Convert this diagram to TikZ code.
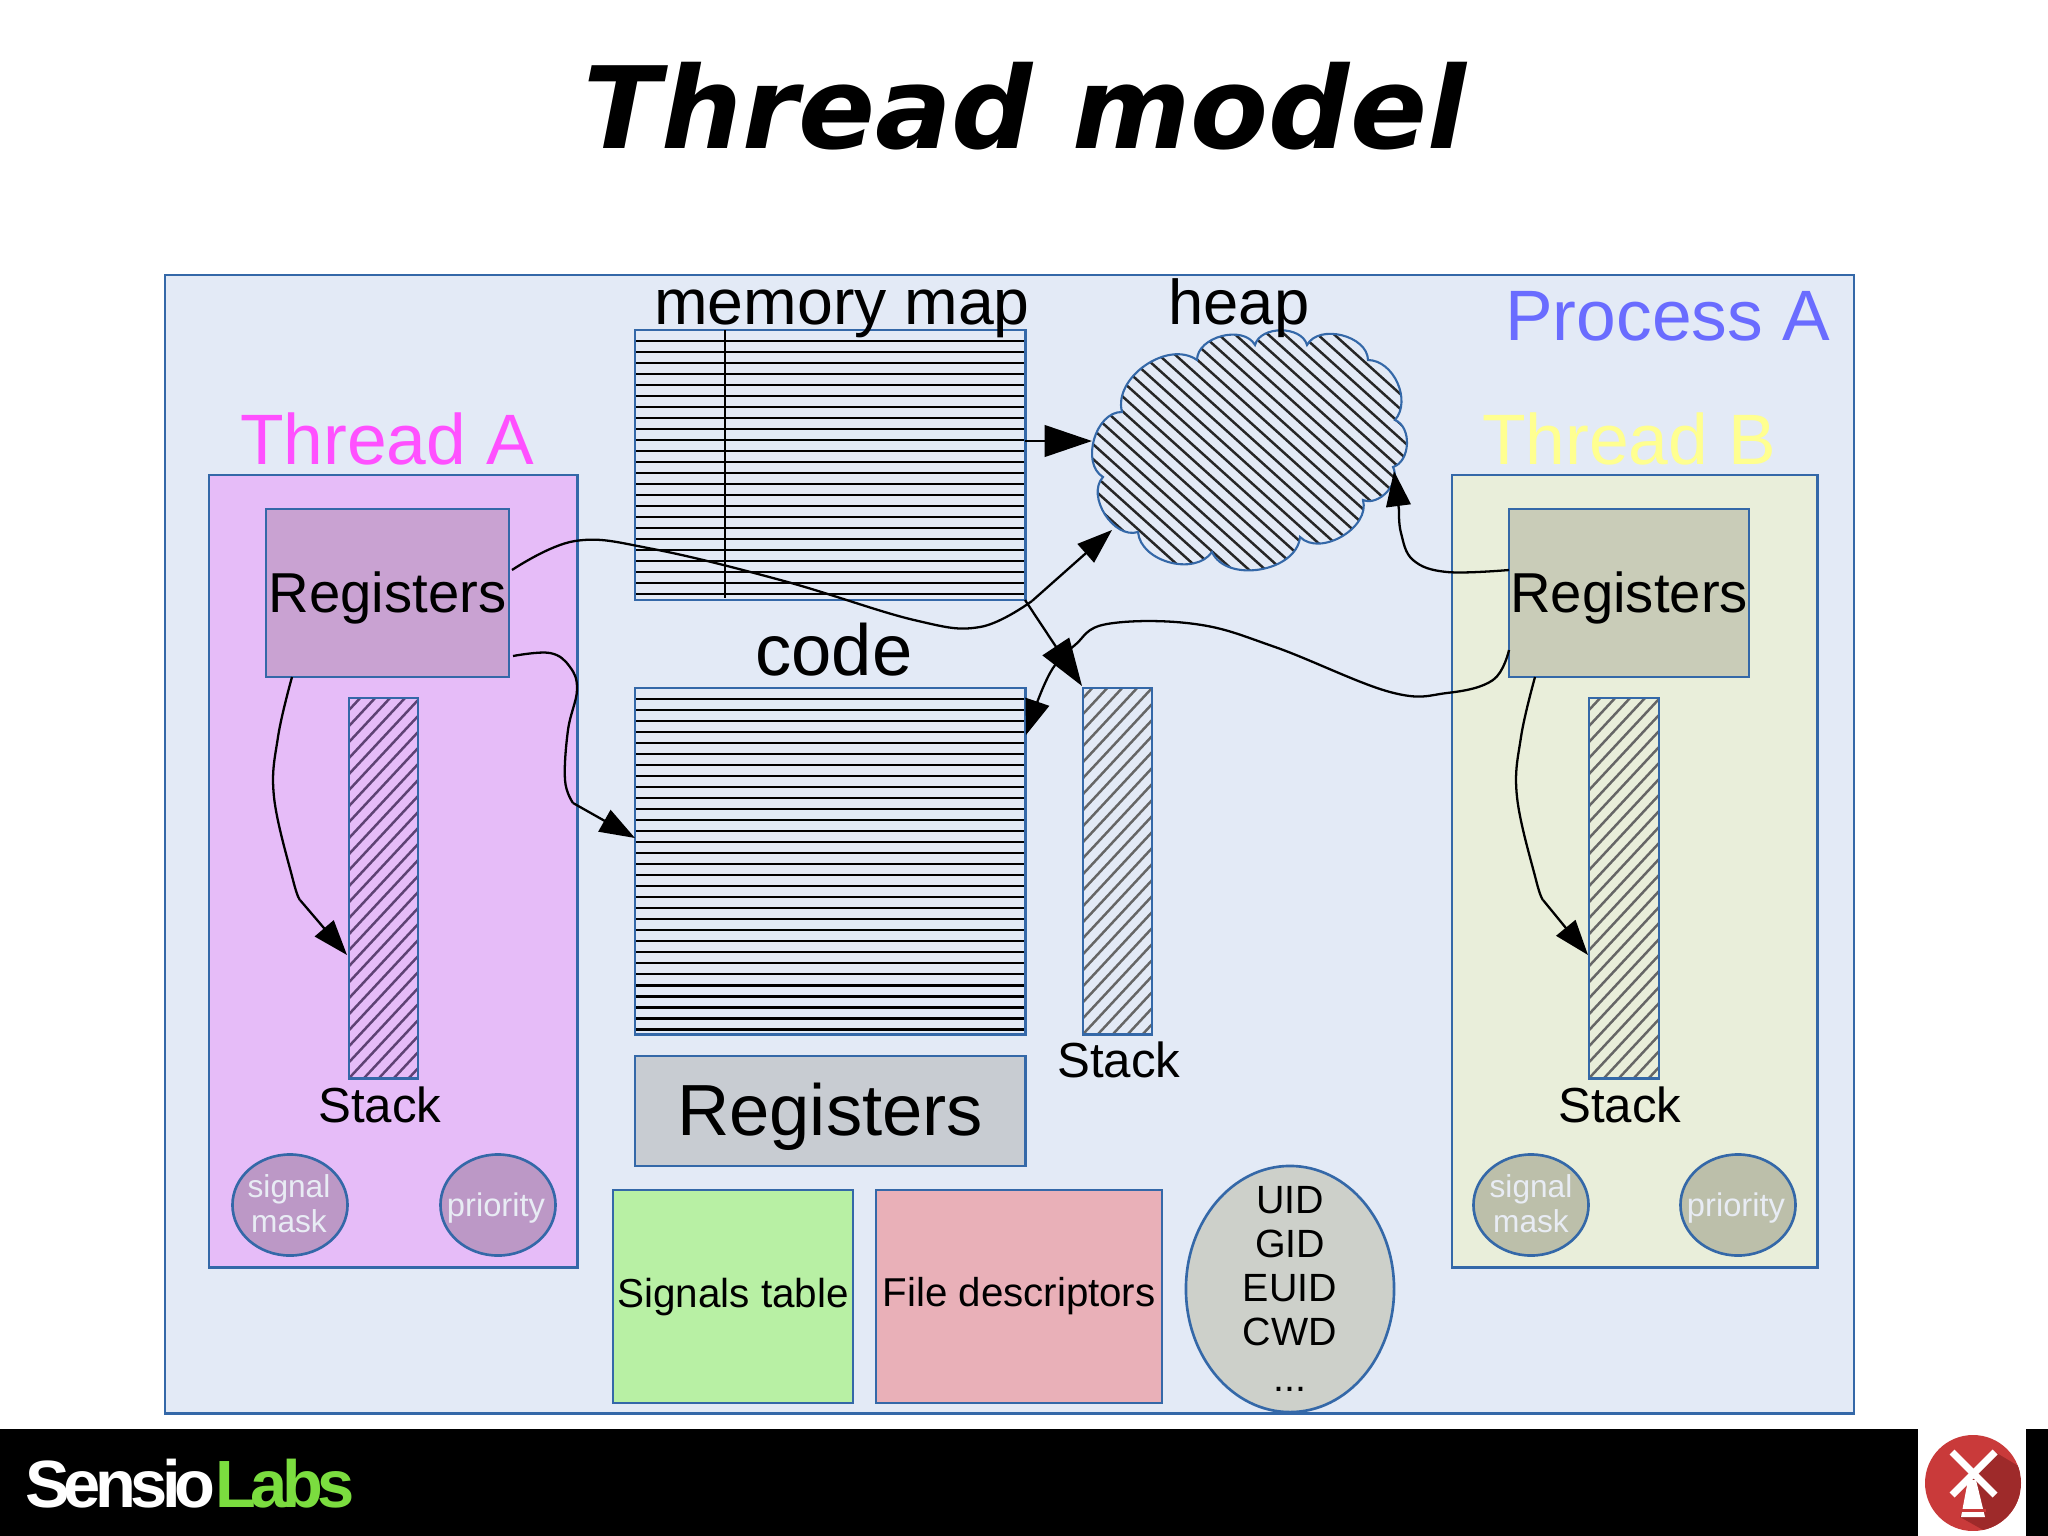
\documentclass[tikz,border=0pt]{standalone}
\usepackage{fontspec}
\setmainfont{Liberation Sans}
\newfontfamily\titlefont{DejaVu Sans}
\newfontfamily\logofont{Liberation Sans}[LetterSpace=-8.5]
\usetikzlibrary{arrows.meta,calc,shapes.geometric,bending}
\definecolor{edge}{HTML}{3468A8}
\definecolor{procfill}{HTML}{E3EAF6}
\definecolor{thafill}{HTML}{E6BCF8}
\definecolor{thbfill}{HTML}{E9EEDA}
\definecolor{regafill}{HTML}{C9A2D2}
\definecolor{regbfill}{HTML}{C9CCB8}
\definecolor{regcfill}{HTML}{C8CCD2}
\definecolor{sigfill}{HTML}{B8F0A4}
\definecolor{filefill}{HTML}{E9B0B8}
\definecolor{idfill}{HTML}{CDD0CA}
\definecolor{cirafill}{HTML}{BC98C6}
\definecolor{cirbfill}{HTML}{BCBFAA}
\definecolor{cirtext}{HTML}{E8ECF4}
\definecolor{proctext}{HTML}{6A6CFF}
\definecolor{thatext}{HTML}{FF50FF}
\definecolor{thbtext}{HTML}{FFFF90}
\definecolor{logogreen}{HTML}{7BDD3F}
\definecolor{millred}{HTML}{C93A3A}
\definecolor{milldark}{HTML}{9E2A2A}
\definecolor{hatchpurple}{HTML}{5E4274}
\newcommand{\fs}[1]{\fontsize{#1}{#1}\selectfont}
\tikzset{
  x=0.01cm,y=-0.01cm,
  box/.style={draw=edge,line width=0.75pt,rectangle,inner sep=0pt,outer sep=0pt,anchor=north west,align=center},
  oval/.style={draw=edge,line width=0.75pt,ellipse,inner sep=0pt,outer sep=0pt,align=center},
  lbl/.style={anchor=base,inner sep=0pt,outer sep=0pt},
  hatchfig/.style={path picture={
      \foreach \i in {-6,...,26}{
        \draw[#1,line width=0.7pt] ($(path picture bounding box.south west)+(0cm,\i*0.16cm)$) -- ++(47:3cm);
      }}},
  rules/.style={path picture={
      \foreach \i in {1,...,#1}{
        \draw[black,line width=0.75pt] ($(path picture bounding box.north west)+(0cm,-\i*0.11cm)$) -- ++(5cm,0cm);
      }}},
  conn/.style={black,line width=0.65pt},
  smallhead/.style={conn,-{Triangle[length=10pt,width=7pt]}},
  bighead/.style={conn,-{Triangle[length=13.5pt,width=9pt]}},
}
\begin{document}
\begin{tikzpicture}
\useasboundingbox (0,0) rectangle (2048,1536);
\fill[white] (0,0) rectangle (2048,1536);

% title
\node[lbl] (title) at (1025,148) {\titlefont\bfseries\itshape\fs{32.3}Thread model};

% process
\node[box,fill=procfill,minimum width=16.88cm,minimum height=11.38cm] (proc) at (165,275) {};
\node[lbl,text=proctext,font=\fs{20.3}] (proctxt) at (1668,340) {Process A};

% threads
\node[box,fill=thafill,minimum width=3.68cm,minimum height=7.92cm] (tha) at (209,475) {};
\node[box,fill=thbfill,minimum width=3.65cm,minimum height=7.92cm] (thb) at (1452,475) {};
\node[lbl,text=thatext,font=\fs{20.3}] (thatxt) at (387,464) {Thread A};
\node[lbl,text=thbtext,font=\fs{20.3}] (thbtxt) at (1629,464) {Thread B};

% registers
\node[box,fill=regafill,minimum width=2.43cm,minimum height=1.68cm,font=\fs{16},text height=14.1pt] (rega) at (266,509) {Registers};
\node[box,fill=regbfill,minimum width=2.40cm,minimum height=1.68cm,font=\fs{16},text height=14.1pt] (regb) at (1509,509) {Registers};
\node[box,fill=regcfill,minimum width=3.90cm,minimum height=1.10cm,font=\fs{20.6},text height=18.2pt] (regc) at (635,1056) {Registers};

% stacks
\node[box,fill=thafill,hatchfig={hatchpurple},minimum width=0.69cm,minimum height=3.80cm] (stacka) at (349,698) {};
\node[box,fill=thbfill,hatchfig={black!60},minimum width=0.70cm,minimum height=3.80cm] (stackb) at (1589,698) {};
\node[box,fill=procfill,hatchfig={black!60},minimum width=0.69cm,minimum height=3.46cm] (stackc) at (1083,688) {};
\node[lbl,font=\fs{14}] (stackatxt) at (380,1122) {Stack};
\node[lbl,font=\fs{14}] (stackbtxt) at (1620,1122) {Stack};
\node[lbl,font=\fs{14}] (stackctxt) at (1119,1077) {Stack};

% memory map and code
\node[box,fill=procfill,rules=24,minimum width=3.90cm,minimum height=2.70cm] (map) at (635,330) {};
\coordinate (mapa) at (725,330);
\coordinate (mapb) at (725,598);
\draw[black,line width=0.6pt] (mapa) -- (mapb);
\node[box,fill=procfill,rules=31,minimum width=3.90cm,minimum height=3.46cm] (code) at (635,688) {};
\node[lbl,font=\fs{18.3}] (maptxt) at (842,324) {memory map};
\node[lbl,font=\fs{20.6}] (codetxt) at (834,675) {code};

% heap cloud
\def\heapoutline{(1197,360) to[bend left=75] (1255,345) to[bend left=75] (1307,345)
  to[bend left=75] (1368,360) to[bend left=65] (1395,420) to[bend left=70] (1393,467)
  to[bend left=70] (1363,500) to[bend left=75] (1300,537) to[bend left=75] (1212,552)
  to[bend left=70] (1138,532) to[bend left=75] (1103,477) to[bend left=75] (1122,412)
  to[bend left=70] (1197,360) -- cycle}
\fill[procfill] \heapoutline;
\begin{scope}
  \clip \heapoutline;
  \foreach \i in {0,...,48}{
    \draw[black!85,line width=0.7pt] ($(640,170)+(\i*16.5,0)$) -- ++(-42:8cm);
  }
\end{scope}
\draw[edge,line width=0.6pt] \heapoutline;
\node[lbl,font=\fs{18}] (heaptxt) at (1239,324) {heap};
\coordinate (heapw) at (1092,441);
\coordinate (heapsw) at (1112,530);
\coordinate (heape) at (1394,471);

% small boxes
\node[box,fill=sigfill,minimum width=2.40cm,minimum height=2.13cm,font=\fs{11.5}] (sig) at (613,1190) {Signals table};
\node[box,fill=filefill,minimum width=2.86cm,minimum height=2.13cm,font=\fs{11.45}] (file) at (876,1190) {File descriptors};
\node[oval,fill=idfill,minimum width=2.08cm,minimum height=2.46cm] (ids) at (1290,1289) {};
\foreach \t/\yy/\nm in {UID/1213/uid,GID/1257/gid,EUID/1301/euid,CWD/1345/cwd}{
  \node[lbl,font=\fs{11.2}] (\nm) at (1290,\yy) {\t};
}
\node[lbl,font=\fs{11.2}] (more) at (1290,1391) {...};

% circles
\node[oval,fill=cirafill,minimum width=1.15cm,minimum height=1.01cm] (sma) at (290,1205) {};
\node[oval,fill=cirafill,minimum width=1.15cm,minimum height=1.01cm] (pra) at (498,1205) {};
\node[oval,fill=cirbfill,minimum width=1.15cm,minimum height=1.01cm] (smb) at (1531,1205) {};
\node[oval,fill=cirbfill,minimum width=1.15cm,minimum height=1.01cm] (prb) at (1738,1205) {};
\foreach \xx/\nn in {289/a,1531/b}{
  \node[lbl,text=cirtext,font=\fs{9}] (sig\nn) at (\xx,1197) {signal};
  \node[lbl,text=cirtext,font=\fs{9}] (mask\nn) at (\xx,1232) {mask};
}
\node[lbl,text=cirtext,font=\fs{9.3}] (pria) at (496,1216) {priority};
\node[lbl,text=cirtext,font=\fs{9.3}] (prib) at (1736,1216) {priority};

% connectors
\coordinate (rega1) at (512,570);
\coordinate (rega2) at (513,656);
\coordinate (rega3) at (292,677);
\coordinate (regb1) at (1509,570);
\coordinate (regb2) at (1509,650);
\coordinate (regb3) at (1535,677);
\coordinate (mapout) at (1025,441);
\coordinate (mapdown) at (1025,600);
\coordinate (codein) at (635,838);
\coordinate (codeout) at (1026,735);
\coordinate (stackain) at (347,955);
\coordinate (stackbin) at (1588,955);
\coordinate (stackcin) at (1082,686);
\coordinate (lastaheap) at (1032,601);
\coordinate (lastacode) at (573,803);
\coordinate (lastastack) at (300,900);
\coordinate (lastbheap) at (1399,510);
\coordinate (lastbcode) at (1038,700);
\coordinate (lastbstack) at (1543,900);

\draw[bighead] (mapout) -- (heapw);
\draw[bighead] (mapdown) -- (stackcin);
\draw[conn] plot[smooth,tension=0.65] coordinates {(rega1) (575,541) (653,549) (784,581) (914,620) (980,627) (lastaheap)};
\draw[smallhead] (lastaheap) -- (heapsw);
\draw[conn] plot[smooth,tension=0.65] coordinates {(rega2) (550,653) (570,667) (577,690) (568,730) (565,780) (lastacode)};
\draw[smallhead] (lastacode) -- (codein);
\draw[conn] plot[smooth,tension=0.65] coordinates {(rega3) (278,737) (274,797) (293,880) (lastastack)};
\draw[smallhead] (lastastack) -- (stackain);
\draw[conn] plot[smooth,tension=0.65] coordinates {(regb1) (1447,572) (1413,560) (1401,533) (lastbheap)};
\draw[smallhead] (lastbheap) -- (heape);
\draw[conn] plot[smooth,tension=0.65] coordinates {(regb2) (1493,680) (1447,693) (1390,692) (1275,647) (1195,624) (1107,624) (1075,645) (1053,668) (lastbcode)};
\draw[smallhead] (lastbcode) -- (codeout);
\draw[conn] plot[smooth,tension=0.65] coordinates {(regb3) (1521,737) (1517,797) (1536,880) (lastbstack)};
\draw[smallhead] (lastbstack) -- (stackbin);

% footer
\fill[black] (0,1429) rectangle (2048,1536);
\fill[white] (1918,1429) rectangle (2026,1536);
\node[lbl,anchor=base west] (logo) at (25,1507) {\logofont\bfseries\fs{19}\textcolor{white}{Sensio}\textcolor{logogreen}{Labs}};
\begin{scope}
  \clip (1973,1483) circle[radius=48];
  \fill[millred] (1925,1435) rectangle (2021,1531);
  \fill[milldark] (1995,1452) -- (2025,1470) -- (2025,1531) -- (1985,1531) -- (1960,1517) -- (1972,1480) -- cycle;
\end{scope}
\draw[white,line width=2pt] (1952,1452) -- (1995,1495);
\draw[white,line width=2pt] (1995,1452) -- (1952,1495);
\fill[white] (1968,1480) -- (1976,1480) -- (1985,1517) -- (1961,1517) -- cycle;
\fill[millred] (1960,1509) rectangle (1986,1512);
\end{tikzpicture}
\end{document}
